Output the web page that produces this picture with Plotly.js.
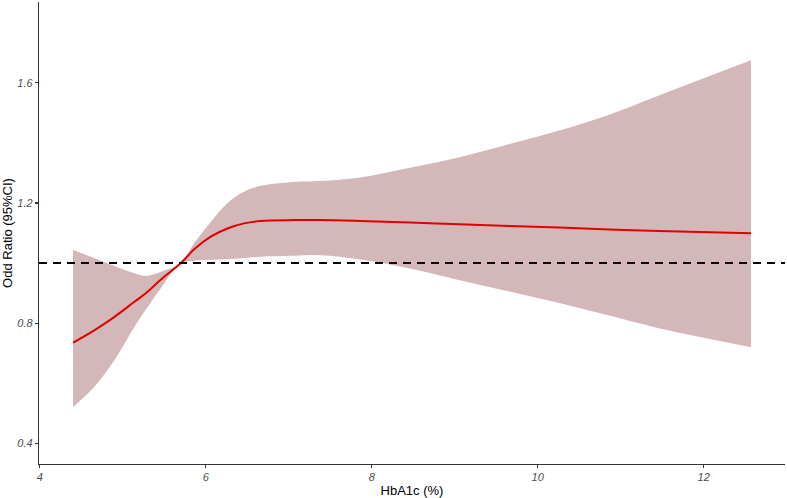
<!DOCTYPE html>
<html>
<head>
<meta charset="utf-8">
<script src="https://cdn.plot.ly/plotly-3.0.1.min.js"></script>
<style>html,body{margin:0;padding:0;background:#fff;}#chart{width:787px;height:498px;}</style>
</head>
<body>
<div id="chart"></div>
<script>
const hba1c   = [4.40, 4.66, 4.90, 5.14, 5.28, 5.46, 5.70, 5.86, 6.06, 6.26, 6.46, 6.66, 7.06, 7.38, 7.86, 8.46, 9.06, 9.66, 10.26, 10.86, 11.46, 12.57];
const orEst   = [0.735, 0.777, 0.821, 0.871, 0.900, 0.945, 1.000, 1.046, 1.088, 1.115, 1.132, 1.140, 1.143, 1.143, 1.140, 1.135, 1.129, 1.123, 1.118, 1.112, 1.107, 1.099];
const orLower = [0.521, 0.589, 0.677, 0.788, 0.846, 0.917, 1.000, 1.008, 1.011, 1.013, 1.017, 1.021, 1.024, 1.026, 1.012, 0.982, 0.943, 0.905, 0.867, 0.825, 0.783, 0.720];
const orUpper = [1.043, 1.016, 0.990, 0.966, 0.957, 0.971, 1.000, 1.066, 1.137, 1.199, 1.237, 1.257, 1.270, 1.273, 1.285, 1.317, 1.352, 1.396, 1.441, 1.494, 1.558, 1.675];
const xTicks = [4, 6, 8, 10, 12];
const yTicks = [0.4, 0.8, 1.2, 1.6];
const refValue = 1;

const traces = [
  {x: hba1c, y: orLower, type: 'scatter', mode: 'lines', line: {width: 0, shape: 'spline'}, hoverinfo: 'skip', showlegend: false},
  {x: hba1c, y: orUpper, type: 'scatter', mode: 'lines', line: {width: 0, shape: 'spline'}, fill: 'tonexty', fillcolor: 'rgb(211,183,185)', hoverinfo: 'skip', showlegend: false},
  {x: hba1c, y: orEst, type: 'scatter', mode: 'lines', line: {color: '#E00000', width: 2, shape: 'spline'}, showlegend: false}
];

const axisCommon = {
  showgrid: false, zeroline: false, showline: true, linecolor: '#333333', linewidth: 1.2,
  ticks: 'outside', ticklen: 3, tickwidth: 1.2, tickcolor: '#333333',
  tickfont: {family: 'Liberation Sans, Arial, sans-serif', size: 11, color: '#4D4D4D', style: 'italic'}
};

const layout = {
  width: 787, height: 498,
  margin: {l: 39, r: 2, t: 2, b: 34},
  paper_bgcolor: '#fff', plot_bgcolor: '#fff',
  font: {family: 'Liberation Sans, Arial, sans-serif'},
  xaxis: Object.assign({}, axisCommon, {
    range: [3.99, 12.98], tickvals: xTicks, ticktext: xTicks.map(String),
    title: {text: 'HbA1c (%)', font: {size: 13, color: '#000'}, standoff: 4}
  }),
  yaxis: Object.assign({}, axisCommon, {
    range: [0.331, 1.869], tickvals: yTicks, ticktext: yTicks.map(v => v.toFixed(1)),
    title: {text: 'Odd Ratio (95%CI)', font: {size: 13, color: '#000'}, standoff: 6}
  }),
  shapes: [{type: 'line', xref: 'paper', x0: 0, x1: 1, yref: 'y', y0: refValue, y1: refValue,
    line: {color: '#000', width: 2, dash: '8px,6px'}}]
};

Plotly.newPlot('chart', traces, layout, {displayModeBar: false, staticPlot: true});
</script>
</body>
</html>
